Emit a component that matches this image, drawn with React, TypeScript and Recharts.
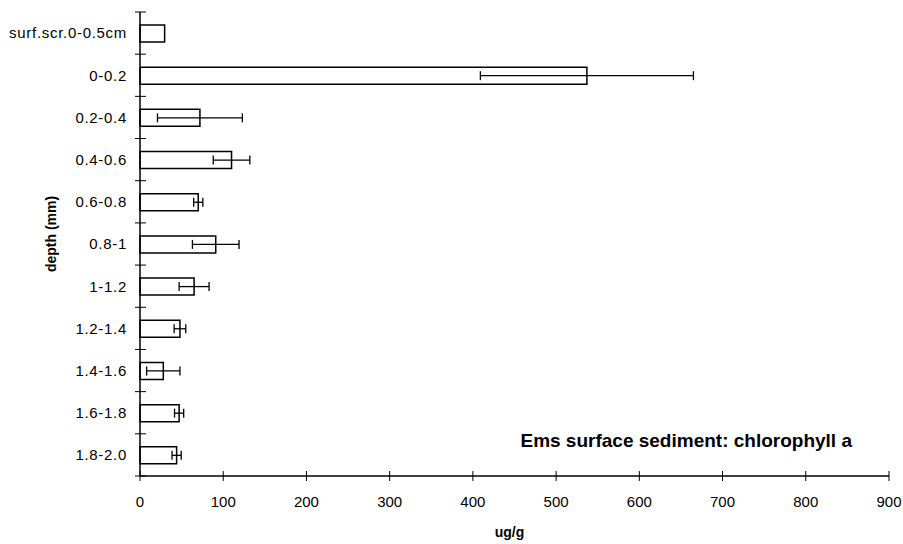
import React from 'react';
import { BarChart, Bar, XAxis, YAxis, ErrorBar } from 'recharts';

const depthLabels = [
  'surf.scr.0-0.5cm',
  '0-0.2',
  '0.2-0.4',
  '0.4-0.6',
  '0.6-0.8',
  '0.8-1',
  '1-1.2',
  '1.2-1.4',
  '1.4-1.6',
  '1.6-1.8',
  '1.8-2.0',
];
const chlorophyllValues = [29.6, 537, 72, 110, 70, 91, 65, 48, 28, 47, 44];
const errorValues = [null, 128, 51, 22, 5.5, 28, 18, 7, 20, 5.5, 5.5];
const xTickValues = [0, 100, 200, 300, 400, 500, 600, 700, 800, 900];

const data = depthLabels.map((depth, i) => ({
  depth,
  value: chlorophyllValues[i],
  err: errorValues[i],
}));

const FONT = '"Liberation Sans", Arial, sans-serif';

const XTick = (props: any) => {
  const { x, y, payload } = props;
  return (
    <g>
      <line x1={x} x2={x} y1={y - 5} y2={y + 5} stroke="#000" strokeWidth={1} />
      <text x={x} y={y + 31} textAnchor="middle" fontSize={15} fontFamily={FONT} fill="#000">
        {payload.value}
      </text>
    </g>
  );
};

const YTick = (props: any) => {
  const { x, y, payload, index } = props;
  const axisX = x + 13;
  const half = payload.offset ?? 0;
  const isLast = index === depthLabels.length - 1;
  return (
    <g>
      <line x1={axisX - 5} x2={axisX + 6} y1={y - half} y2={y - half} stroke="#000" strokeWidth={1} />
      {isLast && (
        <line x1={axisX - 5} x2={axisX + 6} y1={y + half} y2={y + half} stroke="#000" strokeWidth={1} />
      )}
      <text
        x={x}
        y={y}
        dy="0.36em"
        textAnchor="end"
        fontSize={15}
        letterSpacing={0.7}
        fontFamily={FONT}
        fill="#000"
      >
        {payload.value}
      </text>
    </g>
  );
};

export default function App() {
  return (
    <div style={{ position: 'absolute', left: 0, top: 0, width: 903, height: 544, background: '#fff' }}>
      <BarChart
        width={903}
        height={544}
        data={data}
        layout="vertical"
        margin={{ top: 12, right: 14, left: 0, bottom: 0 }}
        barSize={17}
      >
        <XAxis
          type="number"
          domain={[0, 900]}
          ticks={xTickValues}
          height={68}
          tickSize={0}
          tickMargin={0}
          tickLine={false}
          tick={<XTick />}
          axisLine={{ stroke: '#000', strokeWidth: 1.5 }}
          label={{
            content: ({ viewBox }: any) => (
              <text
                x={viewBox.x + viewBox.width / 2 - 5}
                y={viewBox.y + viewBox.height - 7}
                textAnchor="middle"
                fontSize={14}
                fontWeight="bold"
                fontFamily={FONT}
                fill="#000"
              >
                ug/g
              </text>
            ),
          }}
        />
        <XAxis
          xAxisId="top"
          orientation="top"
          type="number"
          domain={[0, 900]}
          height={0}
          tick={false}
          tickLine={false}
          axisLine={{ stroke: '#666', strokeWidth: 1 }}
        />
        <YAxis
          type="category"
          dataKey="depth"
          width={140}
          tickSize={0}
          tickMargin={13}
          tickLine={false}
          interval={0}
          tick={<YTick />}
          axisLine={{ stroke: '#000', strokeWidth: 1.5 }}
          label={{
            content: ({ viewBox }: any) => {
              const cx = viewBox.x + 51;
              const cy = viewBox.y + viewBox.height / 2 - 10;
              return (
                <text
                  x={cx}
                  y={cy}
                  transform={`rotate(-90 ${cx} ${cy})`}
                  textAnchor="middle"
                  dominantBaseline="central"
                  fontSize={14}
                  fontWeight="bold"
                  fontFamily={FONT}
                  fill="#000"
                >
                  depth (mm)
                </text>
              );
            },
          }}
        />
        <YAxis
          yAxisId="right"
          orientation="right"
          type="category"
          dataKey="depth"
          width={0}
          tick={false}
          tickLine={false}
          axisLine={{ stroke: '#666', strokeWidth: 1 }}
        />
        <Bar dataKey="value" fill="#fff" stroke="#000" strokeWidth={1.5} isAnimationActive={false}>
          <ErrorBar dataKey="err" direction="x" width={4.5} stroke="#000" strokeWidth={1.3} />
        </Bar>
      </BarChart>
      <div
        style={{
          position: 'absolute',
          left: 452,
          top: 430,
          width: 400,
          textAlign: 'right',
          fontFamily: FONT,
          fontWeight: 'bold',
          fontSize: 19,
          lineHeight: '22px',
          color: '#000',
        }}
      >
        Ems surface sediment: chlorophyll a
      </div>
    </div>
  );
}
